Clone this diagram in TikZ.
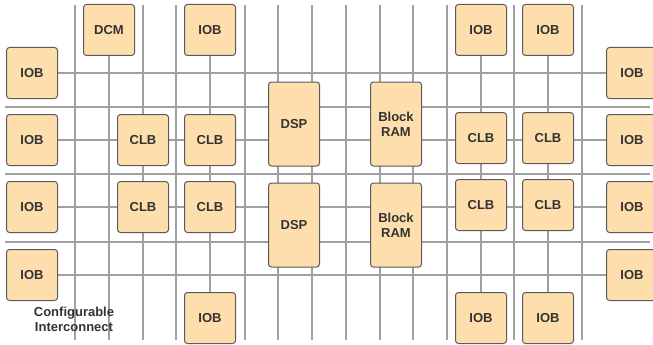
\documentclass[tikz,border=0pt]{standalone}
\usepackage{fontspec}
\setmainfont{Liberation Sans}
\usepackage{xcolor}
\usepackage{tikz}
\usetikzlibrary{positioning,backgrounds}
\definecolor{BlockFill}{RGB}{255,222,173}
\definecolor{BlockEdge}{RGB}{90,90,90}
\definecolor{WireGray}{RGB}{160,160,160}
\definecolor{LabelGray}{RGB}{51,51,51}

\begin{document}
\begin{tikzpicture}[x=1pt, y=-1pt,
    block/.style={draw=BlockEdge, line width=1pt, rounded corners=3pt, fill=BlockFill, text=LabelGray, minimum width=51pt, minimum height=51pt, font=\fontsize{13}{15}\selectfont\bfseries, align=center, inner sep=0pt},
    tall/.style={block, minimum height=84pt},
    wire/.style={draw=WireGray, line width=1.5pt}]
    \path[use as bounding box, clip] (0,0) rectangle (653,345);

    \node [block] (dcm) at (109,30) {DCM};
    \node [block] (iobT1) at (210,30) {IOB};
    \node [block] (iobT2) at (481,30) {IOB};
    \node [block] (iobT3) at (548,30) {IOB};

    \node [block] (iobL1) at (32,73) {IOB};
    \node [block] (iobL2) at (32,140) {IOB};
    \node [block] (iobL3) at (32,207) {IOB};
    \node [block] (iobL4) at (32,275) {IOB};

    \node [block] (iobR1) at (632,73) {IOB};
    \node [block] (iobR2) at (632,140) {IOB};
    \node [block] (iobR3) at (632,207) {IOB};
    \node [block] (iobR4) at (632,275) {IOB};

    \node [block] (clb1) at (143,140) {CLB};
    \node [block] (clb2) at (210,140) {CLB};
    \node [block] (clb3) at (143,207) {CLB};
    \node [block] (clb4) at (210,207) {CLB};
    \node [block] (clb5) at (481,138) {CLB};
    \node [block] (clb6) at (548,138) {CLB};
    \node [block] (clb7) at (481,205) {CLB};
    \node [block] (clb8) at (548,205) {CLB};

    \node [tall] (dsp1) at (294,124) {DSP};
    \node [tall] (dsp2) at (294,225) {DSP};
    \node [tall] (ram1) at (396,124) {Block\\RAM};
    \node [tall] (ram2) at (396,225) {Block\\RAM};

    \node [block] (iobB1) at (210,318) {IOB};
    \node [block] (iobB2) at (481,318) {IOB};
    \node [block] (iobB3) at (548,318) {IOB};

    \node [text=LabelGray, font=\fontsize{13}{15}\selectfont\bfseries, align=center] (caption) at (74,319) {Configurable\\Interconnect};

    \coordinate (dcmEnd) at (109,340);

    \begin{scope}[on background layer]
        \foreach \x in {75,143,176,245,278,312,346,380,413,447,514,582}
            \draw [wire] (\x,5) -- (\x,340);
        \foreach \y in {107,174,242}
            \draw [wire] (5,\y) -- (650,\y);
        \draw [wire] (dcm) -- (dcmEnd);
        \draw [wire] (iobT1) -- (iobB1);
        \draw [wire] (iobT2) -- (iobB2);
        \draw [wire] (iobT3) -- (iobB3);
        \draw [wire] (iobL1) -- (iobR1);
        \draw [wire] (iobL2) -- (iobR2);
        \draw [wire] (iobL3) -- (iobR3);
        \draw [wire] (iobL4) -- (iobR4);
    \end{scope}
\end{tikzpicture}
\end{document}
